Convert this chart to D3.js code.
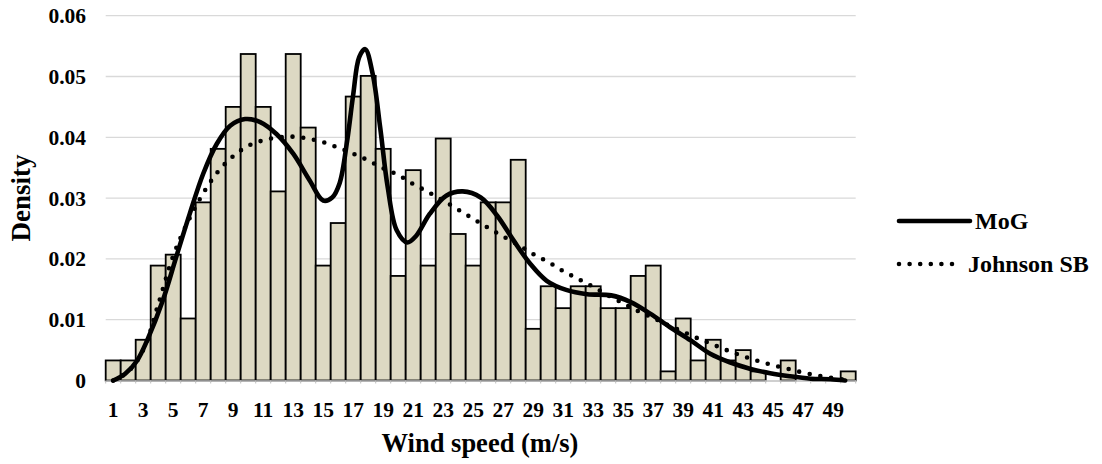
<!DOCTYPE html>
<html>
<head>
<meta charset="utf-8">
<script src="https://cdn.jsdelivr.net/npm/d3@7/dist/d3.min.js"></script>
<style>
  html, body { margin: 0; padding: 0; background: #fff; }
  svg text { font-family: "Liberation Serif", "Times New Roman", serif; font-weight: bold; fill: #000; }
</style>
</head>
<body>
<svg id="chart" width="1102" height="464"></svg>
<script>
// Histogram bins (wind speed, m/s) and observed densities
const speeds = d3.range(1, 51);
const density = [
  0.0033, 0.0033, 0.0067, 0.0189, 0.0207, 0.0102, 0.0293, 0.0381, 0.0450, 0.0537,
  0.0450, 0.0311, 0.0537, 0.0416, 0.0189, 0.0259, 0.0467, 0.0501, 0.0381, 0.0172,
  0.0346, 0.0189, 0.0398, 0.0241, 0.0189, 0.0293, 0.0293, 0.0363, 0.0085, 0.0155,
  0.0119, 0.0155, 0.0155, 0.0119, 0.0119, 0.0172, 0.0189, 0.0015, 0.0102, 0.0033,
  0.0067, 0.0033, 0.0050, 0.0015, 0.0000, 0.0033, 0.0000, 0.0000, 0.0000, 0.0015
];

// Mixture-of-Gaussians fitted density
const mogSpeed = [1.0, 1.8, 2.6, 3.3, 4.3, 5.2, 6.1, 7.0, 7.9, 8.8, 9.8, 10.8, 11.9, 13.0, 14.1,
  15.0, 15.6, 16.1, 16.6, 17.0, 17.4, 17.8, 18.3, 18.8, 19.3, 19.9, 20.6, 21.2, 22.1, 23.2,
  24.3, 25.5, 26.6, 27.7, 28.8, 29.9, 31.2, 32.6, 34.2, 35.5, 36.8, 38.1, 39.5, 40.8, 42.1,
  43.5, 44.8, 46.1, 47.5, 48.8, 49.8];
const mogDensity = [0.0000, 0.0011, 0.0033, 0.0068, 0.0131, 0.0203, 0.0274, 0.0340, 0.0389, 0.0419,
  0.0430, 0.0425, 0.0405, 0.0373, 0.0329, 0.0296, 0.0301, 0.0325, 0.0395, 0.0470, 0.0532,
  0.0545, 0.0504, 0.0416, 0.0318, 0.0247, 0.0227, 0.0238, 0.0274, 0.0304, 0.0311, 0.0301,
  0.0271, 0.0230, 0.0192, 0.0164, 0.0149, 0.0142, 0.0140, 0.0129, 0.0110, 0.0088, 0.0066,
  0.0044, 0.0030, 0.0019, 0.0012, 0.0007, 0.0003, 0.0002, 0.0000];

// Johnson SB fitted density
const jsbSpeed = [1.0, 2.0, 3.0, 4.0, 5.0, 6.0, 7.0, 8.0, 9.0, 10.0, 11.0, 12.0, 13.0, 14.0,
  15.0, 16.0, 17.0, 18.0, 19.0, 20.0, 21.0, 22.0, 23.0, 24.0, 25.0, 26.0, 27.0, 28.0, 29.0,
  30.0, 31.0, 32.0, 33.0, 34.0, 35.0, 36.0, 37.0, 38.0, 39.0, 40.0, 41.0, 42.0, 43.0, 44.0,
  45.0, 46.0, 47.0, 48.0, 49.0, 49.8];
const jsbDensity = [0.0000, 0.0015, 0.0050, 0.0125, 0.0205, 0.0262, 0.0308, 0.0344, 0.0369, 0.0386,
  0.0395, 0.0400, 0.0401, 0.0398, 0.0392, 0.0383, 0.0373, 0.0362, 0.0349, 0.0338, 0.0323,
  0.0310, 0.0296, 0.0281, 0.0266, 0.0251, 0.0237, 0.0223, 0.0208, 0.0195, 0.0180, 0.0167,
  0.0154, 0.0140, 0.0127, 0.0114, 0.0103, 0.0091, 0.0080, 0.0069, 0.0059, 0.0049, 0.0040,
  0.0032, 0.0025, 0.0019, 0.0013, 0.0008, 0.0004, 0.0001];

const yTicks = [0, 0.01, 0.02, 0.03, 0.04, 0.05, 0.06];
const yTickLabels = ["0", "0.01", "0.02", "0.03", "0.04", "0.05", "0.06"];
const xTickLabels = d3.range(1, 50, 2);

const svg = d3.select("#chart");
const plotLeft = 105.7, plotRight = 855.7, plotTop = 15.7, plotBottom = 380.5;

const xBand = d3.scaleBand().domain(speeds).range([plotLeft, plotRight]).padding(0);
const xLin = d3.scaleLinear().domain([0.5, 50.5]).range([plotLeft, plotRight]);
const y = d3.scaleLinear().domain([0, 0.06]).range([plotBottom, plotTop]);

// horizontal gridlines
svg.append("g")
  .selectAll("line")
  .data(yTicks.slice(1))
  .join("line")
  .attr("x1", plotLeft).attr("x2", plotRight)
  .attr("y1", d => y(d)).attr("y2", d => y(d))
  .attr("stroke", "#d9d9d9").attr("stroke-width", 1.3);

// bars
svg.append("g")
  .selectAll("rect")
  .data(speeds.map((s, i) => ({ s, v: density[i] })).filter(d => d.v > 0))
  .join("rect")
  .attr("x", d => xBand(d.s))
  .attr("width", xBand.bandwidth())
  .attr("y", d => y(d.v))
  .attr("height", d => y(0) - y(d.v))
  .attr("fill", "#ddd9c3")
  .attr("stroke", "#000")
  .attr("stroke-width", 1.8);

// x axis line with small ticks at bin edges
const xAxis = d3.axisBottom(xBand).tickSize(0).tickFormat("");
const gx = svg.append("g").attr("transform", `translate(0,${plotBottom})`).call(xAxis);
gx.select(".domain").attr("stroke", "#bfbfbf").attr("stroke-width", 1.3);
gx.selectAll(".tick").remove();
svg.append("g")
  .selectAll("line")
  .data(d3.range(0, 51))
  .join("line")
  .attr("x1", d => plotLeft + d * xBand.bandwidth())
  .attr("x2", d => plotLeft + d * xBand.bandwidth())
  .attr("y1", plotBottom).attr("y2", plotBottom + 3)
  .attr("stroke", "#bfbfbf").attr("stroke-width", 1);

// x tick labels (every other bin)
svg.append("g")
  .selectAll("text")
  .data(xTickLabels)
  .join("text")
  .attr("x", d => xBand(d) + xBand.bandwidth() / 2)
  .attr("y", 417)
  .attr("text-anchor", "middle")
  .style("font-size", "21.5px")
  .text(d => d);

// y tick labels
svg.append("g")
  .selectAll("text")
  .data(yTicks)
  .join("text")
  .attr("x", 86)
  .attr("y", d => y(d))
  .attr("dy", "0.35em")
  .attr("text-anchor", "end")
  .style("font-size", "21.5px")
  .text((d, i) => yTickLabels[i]);

// axis titles
svg.append("text")
  .attr("x", 480).attr("y", 452)
  .attr("text-anchor", "middle")
  .style("font-size", "26.5px")
  .text("Wind speed (m/s)");
svg.append("text")
  .attr("transform", "translate(30,198) rotate(-90)")
  .attr("text-anchor", "middle")
  .style("font-size", "27px")
  .text("Density");

// fitted curves
const line = d3.line()
  .x(d => xLin(d[0]))
  .y(d => y(d[1]))
  .curve(d3.curveCatmullRom.alpha(0.5));

svg.append("path")
  .datum(jsbSpeed.map((s, i) => [s, jsbDensity[i]]))
  .attr("d", line)
  .attr("fill", "none")
  .attr("stroke", "#000")
  .attr("stroke-width", 4.6)
  .attr("stroke-linecap", "round")
  .attr("stroke-dasharray", "0 10.8");

svg.append("path")
  .datum(mogSpeed.map((s, i) => [s, mogDensity[i]]))
  .attr("d", line)
  .attr("fill", "none")
  .attr("stroke", "#000")
  .attr("stroke-width", 4.6)
  .attr("stroke-linecap", "round")
  .attr("stroke-linejoin", "round");

// legend
const legend = svg.append("g");
legend.append("line")
  .attr("x1", 899).attr("x2", 970).attr("y1", 221).attr("y2", 221)
  .attr("stroke", "#000").attr("stroke-width", 4.6).attr("stroke-linecap", "round");
legend.append("text")
  .attr("x", 975).attr("y", 221).attr("dy", "0.35em")
  .style("font-size", "24px")
  .text("MoG");
legend.append("line")
  .attr("x1", 899).attr("x2", 962).attr("y1", 264).attr("y2", 264)
  .attr("stroke", "#000").attr("stroke-width", 4.6).attr("stroke-linecap", "round")
  .attr("stroke-dasharray", "0 10.6");
legend.append("text")
  .attr("x", 968).attr("y", 264).attr("dy", "0.35em")
  .style("font-size", "24px")
  .text("Johnson SB");
</script>
</body>
</html>
